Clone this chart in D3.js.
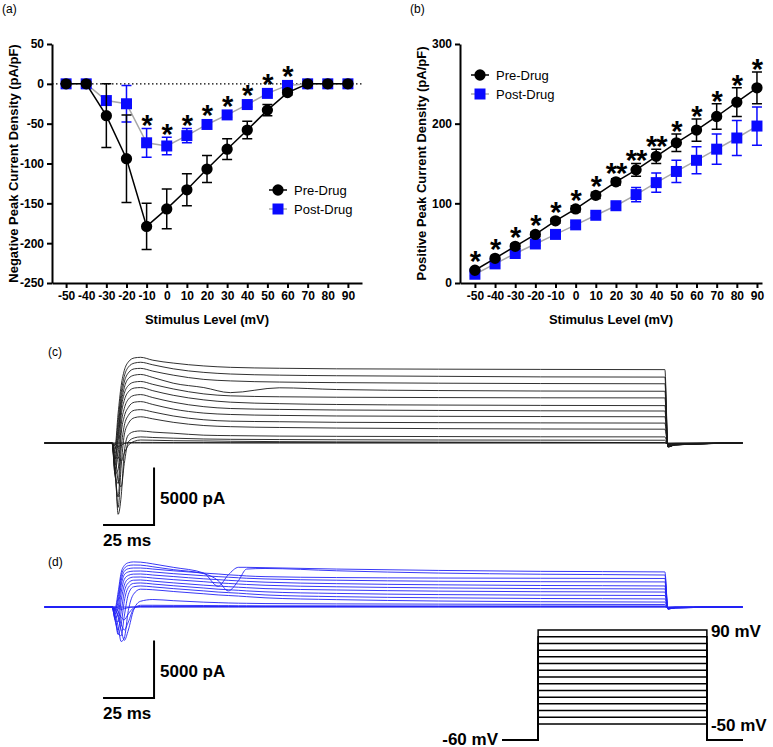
<!DOCTYPE html>
<html>
  <head>
    <meta charset="utf-8" />
    <style>
      body {
        margin: 0;
        background: #fff;
        font-family: "Liberation Sans", Arial, sans-serif;
      }
    </style>
    <script src="https://d3js.org/d3.v7.min.js"></script>
    <title>IV curves and traces</title>
  </head>

  <body>
    <svg id="fig" width="773" height="747"></svg>

    <script>
      // stimulus levels (mV)
      var volts = [-50, -40, -30, -20, -10, 0, 10, 20, 30, 40, 50, 60, 70, 80, 90];

      // (a) negative peak current density (pA/pF)
      var negPre = [0, 0, -40, -94, -179, -157, -133, -107, -82, -58, -33, -11, 0, 0, 0];
      var negPreErr = [0, 0, 40, 55, 29, 25, 20, 17, 13, 11, 7, 3, 0, 0, 0];
      var negPost = [0, 0, -21, -25, -74, -78, -65, -51, -39, -26, -12, -2, 0, 0, 0];
      var negPostErr = [0, 0, 0, 23, 18, 11, 9, 4, 3, 3, 2, 2, 0, 0, 0];
      var negSig = ["", "", "", "", "*", "*", "*", "*", "*", "*", "*", "*", "", "", ""];
      var negTicks = [-250, -200, -150, -100, -50, 0, 50];

      // (b) positive peak current density (pA/pF)
      var posPre = [16, 31, 46, 61, 78, 93, 110, 127, 142, 159, 176, 192, 209, 227, 245];
      var posPreErr = [2, 2, 3, 3, 3, 4, 4, 4, 8, 9, 11, 14, 16, 18, 20];
      var posPost = [11, 24, 37, 49, 61, 73, 85, 97, 111, 126, 140, 154, 168, 182, 197];
      var posPostErr = [2, 2, 2, 2, 2, 3, 3, 4, 9, 12, 14, 17, 19, 22, 24];
      var posSig = ["*", "*", "*", "*", "*", "*", "*", "**", "**", "**", "*", "*", "*", "*", "*"];
      var posTicks = [0, 100, 200, 300];

      // (c) pre-drug current traces (pA), one row per stimulus level
      var timesC = [-33, 0, 1.5, 3, 4.5, 6, 8, 11, 14, 20, 30, 45, 58, 82, 110, 160, 210, 271, 272.5, 276, 309];
      var tracesC = [
        [0, 0, 0, 0, 0, 0, 0, 0, 0, 0, 0, 0, 0, 0, 0, 0, 0, 0, 0, 0, 0],
        [0, 0, -100, -300, -200, -50, 30, 50, 50, 50, 40, 40, 30, 30, 30, 30, 30, 30, -50, -30, 0],
        [0, 0, -300, -1200, -1600, -900, -200, 150, 260, 240, 200, 180, 150, 120, 100, 80, 60, 30, -80, -40, 0],
        [0, 0, -900, -3300, -3800, -1800, 100, 450, 530, 480, 420, 350, 320, 300, 280, 260, 250, 240, -120, -60, 0],
        [0, 0, -1800, -6200, -4600, -800, 700, 1000, 1050, 950, 850, 680, 640, 600, 580, 560, 540, 530, -150, -80, 0],
        [0, 0, -2400, -5600, -2000, 700, 1700, 2200, 2280, 2100, 1800, 1520, 1420, 1350, 1300, 1250, 1220, 1200, -200, -100, 0],
        [0, 0, -2700, -4700, -500, 1500, 2400, 2850, 2900, 2700, 2350, 2020, 1900, 1850, 1800, 1770, 1750, 1730, -250, -120, 0],
        [0, 0, -2900, -3500, 800, 2300, 3100, 3550, 3600, 3350, 2950, 2600, 2480, 2400, 2350, 2320, 2300, 2280, -280, -140, 0],
        [0, 0, -2700, -2300, 1600, 3000, 3800, 4150, 4210, 3950, 3550, 3160, 3000, 2920, 2870, 2830, 2800, 2780, -300, -150, 0],
        [0, 0, -2300, -900, 2400, 3700, 4450, 4780, 4820, 4550, 4150, 3750, 3550, 3420, 3350, 3300, 3270, 3250, -300, -150, 0],
        [0, 0, -1900, 200, 3000, 4300, 5000, 5300, 5350, 5100, 4700, 4270, 4100, 4020, 3980, 3950, 3930, 3920, -320, -160, 0],
        [0, 0, -1400, 700, 3400, 4800, 5600, 5900, 5960, 5700, 5200, 4820, 4380, 4800, 4650, 4560, 4520, 4500, -330, -160, 0],
        [0, 0, -900, 1300, 3900, 5300, 6100, 6450, 6490, 6250, 5900, 5530, 5400, 5300, 5250, 5200, 5170, 5150, -330, -160, 0],
        [0, 0, -500, 1900, 4400, 5800, 6600, 6950, 7020, 6800, 6450, 6140, 6000, 5900, 5850, 5800, 5750, 5730, -340, -170, 0],
        [0, 0, -200, 2600, 5000, 6300, 7050, 7400, 7450, 7200, 6950, 6700, 6580, 6500, 6450, 6420, 6400, 6380, -350, -170, 0],
      ];

      // (d) post-drug current traces (pA)
      var timesD = [-33, 0, 1.5, 3, 4.5, 6, 8, 10.5, 14, 20, 30, 45, 52, 57, 62, 66, 75, 110, 160, 210, 271, 272.5, 276, 309];
      var tracesD = [
        [0, 0, 0, 0, 0, 0, 0, 0, 0, 0, 0, 0, 0, 0, 0, 0, 0, 0, 0, 0, 0, 0, 0, 0],
        [0, 0, 0, -100, -200, -150, -50, 0, 20, 20, 20, 20, 20, 20, 20, 20, 20, 20, 20, 20, 20, -30, -10, 0],
        [0, 0, -100, -400, -900, -1100, -600, -100, 50, 60, 60, 50, 50, 50, 50, 50, 50, 50, 40, 30, 20, -40, -20, 0],
        [0, 0, -200, -700, -1500, -2000, -1300, -200, 150, 150, 140, 130, 120, 120, 110, 110, 100, 100, 90, 90, 90, -50, -20, 0],
        [0, 0, -200, -900, -2000, -2900, -2000, -300, 500, 650, 550, 420, 380, 350, 330, 320, 300, 270, 250, 230, 220, -80, -30, 0],
        [0, 0, -400, -1700, -3000, -2700, -300, 1100, 1550, 1500, 1350, 1150, 1050, 1000, 950, 900, 800, 640, 520, 460, 430, -100, -40, 0],
        [0, 0, -700, -2300, -2500, -800, 1100, 1750, 1830, 1750, 1600, 1400, 1300, 1250, 1200, 1150, 1050, 900, 800, 740, 700, -120, -50, 0],
        [0, 0, -1000, -2400, -1500, 500, 1700, 2050, 2090, 2000, 1850, 1650, 1550, 1500, 1450, 1400, 1320, 1180, 1080, 1030, 1000, -130, -50, 0],
        [0, 0, -1200, -2000, -400, 1300, 2100, 2330, 2350, 2250, 2100, 1900, 1820, 1770, 1720, 1680, 1600, 1480, 1380, 1330, 1300, -140, -60, 0],
        [0, 0, -1100, -1300, 600, 1900, 2450, 2600, 2610, 2520, 2380, 2200, 2100, 2050, 2000, 1960, 1890, 1760, 1660, 1600, 1570, -150, -60, 0],
        [0, 0, -900, -600, 1300, 2400, 2750, 2860, 2870, 2780, 2650, 2450, 2380, 2320, 2270, 2230, 2160, 2030, 1930, 1870, 1830, -160, -70, 0],
        [0, 0, -600, 0, 1900, 2800, 3050, 3120, 3130, 3050, 2900, 2720, 2640, 2590, 2540, 2500, 2440, 2330, 2240, 2200, 2180, -170, -70, 0],
        [0, 0, -400, 500, 2300, 3100, 3330, 3390, 3390, 3300, 3150, 2950, 2870, 2800, 2750, 2700, 2640, 2560, 2520, 2500, 2480, -170, -70, 0],
        [0, 0, -250, 900, 2700, 3350, 3600, 3650, 3640, 3500, 3250, 2900, 2300, 1400, 2300, 3300, 3350, 3150, 2950, 2850, 2780, -180, -70, 0],
        [0, 0, -100, 1300, 3000, 3600, 3850, 3920, 3900, 3750, 3450, 2950, 1800, 2800, 3450, 3450, 3420, 3300, 3180, 3100, 3050, -180, -70, 0],
      ];

      // voltage protocol (ms): holding, step on, step off, end
      var protoTimes = [-58, 0, 271, 329];
      var holdingMv = -60;

      var canvas = d3.select("#fig");
      var font = "'Liberation Sans', Arial, sans-serif";
      var blue = "#0a0aff";
      var starSize = 29;

      // plain hyphen for negative numbers, as in the original
      function fmt(d) {
        return String(d);
      }

      function drawIV(x, y, pre, preErr, post, postErr, sig, yTicks, yLabel, legX, legY, labelX, panel, panelX) {
        var g = canvas.append("g");

        if (yTicks[yTicks.length - 1] > 0 && yTicks[0] < 0) {
          g.append("line")
            .attr("x1", x.range()[0])
            .attr("x2", x.range()[1])
            .attr("y1", y(0))
            .attr("y2", y(0))
            .attr("stroke", "#000")
            .attr("stroke-width", 1.2)
            .attr("stroke-dasharray", "1.5,2.5");
        }

        g.append("g")
          .attr("transform", "translate(0," + y.range()[0] + ")")
          .call(d3.axisBottom(x).tickValues(volts).tickSize(5).tickSizeOuter(0).tickFormat(fmt));
        g.append("g")
          .attr("transform", "translate(" + x.range()[0] + ",0)")
          .call(d3.axisLeft(y).tickValues(yTicks).tickSize(5).tickSizeOuter(0).tickFormat(fmt));

        g.selectAll(".domain, .tick line").style("stroke", "#000").style("stroke-width", "2px");
        g.selectAll(".tick text")
          .style("font-family", font)
          .style("font-weight", "bold")
          .style("font-size", "12px")
          .style("fill", "#000");

        g.append("text")
          .attr("x", (x.range()[0] + x.range()[1]) / 2)
          .attr("y", y.range()[0] + 41)
          .attr("text-anchor", "middle")
          .style("font-family", font)
          .style("font-weight", "bold")
          .style("font-size", "13px")
          .text("Stimulus Level (mV)");

        g.append("text")
          .attr("transform", "translate(" + labelX + "," + (y.range()[0] + y.range()[1]) / 2 + ") rotate(-90)")
          .attr("text-anchor", "middle")
          .attr("dominant-baseline", "central")
          .style("font-family", font)
          .style("font-weight", "bold")
          .style("font-size", "13px")
          .text(yLabel);

        g.append("text")
          .attr("x", panelX)
          .attr("y", 13)
          .style("font-family", font)
          .style("font-size", "12px")
          .text(panel);

        var series = [
          { name: "Post-Drug", vals: post, err: postErr, color: blue, line: "#a8a8a8", shape: d3.symbolSquare, size: 121 },
          { name: "Pre-Drug", vals: pre, err: preErr, color: "#000", line: "#000", shape: d3.symbolCircle, size: 100 },
        ];

        series.forEach(function (s) {
          var pts = s.vals.map(function (v, i) {
            return { v: volts[i], m: v, e: s.err[i] };
          });

          var line = d3
            .line()
            .x(function (d) { return x(d.v); })
            .y(function (d) { return y(d.m); });
          g.append("path")
            .attr("d", line(pts))
            .attr("fill", "none")
            .attr("stroke", s.line)
            .attr("stroke-width", 1.5);

          // error bars with caps
          g.selectAll(null)
            .data(pts.filter(function (d) { return d.e > 0; }))
            .enter()
            .append("path")
            .attr("d", function (d) {
              var cx = x(d.v);
              var hi = y(d.m + d.e);
              var lo = y(d.m - d.e);
              return "M" + cx + "," + hi + "V" + lo +
                "M" + (cx - 5) + "," + hi + "H" + (cx + 5) +
                "M" + (cx - 5) + "," + lo + "H" + (cx + 5);
            })
            .attr("fill", "none")
            .attr("stroke", s.color)
            .attr("stroke-width", 1.5);

          g.selectAll(null)
            .data(pts)
            .enter()
            .append("path")
            .attr("d", d3.symbol().type(s.shape).size(s.size))
            .attr("transform", function (d) { return "translate(" + x(d.v) + "," + y(d.m) + ")"; })
            .attr("fill", s.color);
        });

        // significance marks above the highest error bar / marker
        g.selectAll(null)
          .data(sig)
          .enter()
          .append("text")
          .attr("x", function (d, i) { return x(volts[i]); })
          .attr("y", function (d, i) {
            var top = Math.min(
              y(pre[i] + preErr[i]), y(pre[i]) - 6,
              y(post[i] + postErr[i]), y(post[i]) - 6
            );
            return top - 10 + 0.58 * starSize;
          })
          .attr("text-anchor", "middle")
          .attr("letter-spacing", "-1px")
          .style("font-family", font)
          .style("font-weight", "bold")
          .style("font-size", starSize + "px")
          .text(function (d) { return d; });

        // legend
        series.slice().reverse().forEach(function (l, k) {
          var ly = legY + k * 19;
          g.append("line")
            .attr("x1", legX - 9)
            .attr("x2", legX + 9)
            .attr("y1", ly)
            .attr("y2", ly)
            .attr("stroke", l.line)
            .attr("stroke-width", 1.5);
          g.append("path")
            .attr("d", d3.symbol().type(l.shape).size(l.size))
            .attr("transform", "translate(" + legX + "," + ly + ")")
            .attr("fill", l.color);
          g.append("text")
            .attr("x", legX + 16)
            .attr("y", ly)
            .attr("dominant-baseline", "central")
            .style("font-family", font)
            .style("font-size", "13px")
            .text(l.name);
        });
      }

      var xA = d3.scaleLinear().domain([-57, 97]).range([52, 362]);
      var yA = d3.scaleLinear().domain([-250, 50]).range([283, 44]);
      drawIV(xA, yA, negPre, negPreErr, negPost, negPostErr, negSig, negTicks,
        "Negative Peak Current Density (pA/pF)", 278, 190, 13, "(a)", 2);

      var xB = d3.scaleLinear().domain([-57.4, 92.5]).range([460, 762]);
      var yB = d3.scaleLinear().domain([0, 300]).range([283, 44]);
      drawIV(xB, yB, posPre, posPreErr, posPost, posPostErr, posSig, posTicks,
        "Positive Peak Current Density (pA/pF)", 480, 75, 421, "(b)", 410);

      // current traces
      var xT = d3.scaleLinear().domain([-33, 309]).range([44.7, 742.4]);
      var pxPerPa = 57.5 / 5000;

      function drawTraces(times, traces, base, color, panel, barI, labelGap) {
        var y = d3.scaleLinear().domain([0, 5000]).range([base, base - 5000 * pxPerPa]);
        var line = d3
          .line()
          .x(function (d, i) { return xT(times[i]); })
          .y(function (d) { return y(d); })
          .curve(d3.curveMonotoneX);

        canvas
          .append("g")
          .selectAll("path")
          .data(traces)
          .enter()
          .append("path")
          .attr("d", line)
          .attr("fill", "none")
          .attr("stroke", color)
          .attr("stroke-width", 0.9);

        // scale bars: 5000 pA and 25 ms
        var barT = 20.6;
        canvas
          .append("path")
          .attr("d",
            "M" + xT(barT - 25) + "," + y(barI) + "H" + xT(barT) + "V" + y(barI + 5000))
          .attr("fill", "none")
          .attr("stroke", "#000")
          .attr("stroke-width", 2);

        canvas
          .append("text")
          .attr("x", xT(barT) + 6)
          .attr("y", y(barI + 2500) + 2)
          .attr("dominant-baseline", "central")
          .style("font-family", font)
          .style("font-weight", "bold")
          .style("font-size", "17px")
          .text("5000 pA");

        canvas
          .append("text")
          .attr("x", xT(barT - 25))
          .attr("y", y(barI) + 16)
          .attr("dominant-baseline", "central")
          .style("font-family", font)
          .style("font-weight", "bold")
          .style("font-size", "17px")
          .text("25 ms");

        canvas
          .append("text")
          .attr("x", 48)
          .attr("y", base - labelGap)
          .attr("dominant-baseline", "central")
          .style("font-family", font)
          .style("font-size", "12px")
          .text(panel);
      }

      drawTraces(timesC, tracesC, 443, "#1a1a1a", "(c)", -7130, 91);
      drawTraces(timesD, tracesD, 607, "#2323f5", "(d)", -7913, 45);

      // voltage protocol
      var xP = d3.scaleLinear().domain([protoTimes[0], protoTimes[3]]).range([502, 743]);
      var yP = d3.scaleLinear().domain([holdingMv, -50, 90]).range([740, 724, 630]);

      canvas
        .append("g")
        .selectAll("path")
        .data(volts)
        .enter()
        .append("path")
        .attr("d", function (v) {
          return (
            "M" + xP(protoTimes[0]) + "," + yP(holdingMv) +
            "H" + xP(protoTimes[1]) + "V" + yP(v) +
            "H" + xP(protoTimes[2]) + "V" + yP(holdingMv) +
            "H" + xP(protoTimes[3])
          );
        })
        .attr("fill", "none")
        .attr("stroke", "#000")
        .attr("stroke-width", 1.5);

      canvas
        .append("text")
        .attr("x", xP(protoTimes[0]) - 4)
        .attr("y", yP(holdingMv) - 1)
        .attr("text-anchor", "end")
        .attr("dominant-baseline", "central")
        .style("font-family", font)
        .style("font-weight", "bold")
        .style("font-size", "17px")
        .text(holdingMv + " mV");

      [volts[volts.length - 1], volts[0]].forEach(function (v) {
        canvas
          .append("text")
          .attr("x", xP(protoTimes[2]) + 4)
          .attr("y", yP(v) + 1)
          .attr("dominant-baseline", "central")
          .style("font-family", font)
          .style("font-weight", "bold")
          .style("font-size", "17px")
          .text(v + " mV");
      });
    </script>
  </body>
</html>
